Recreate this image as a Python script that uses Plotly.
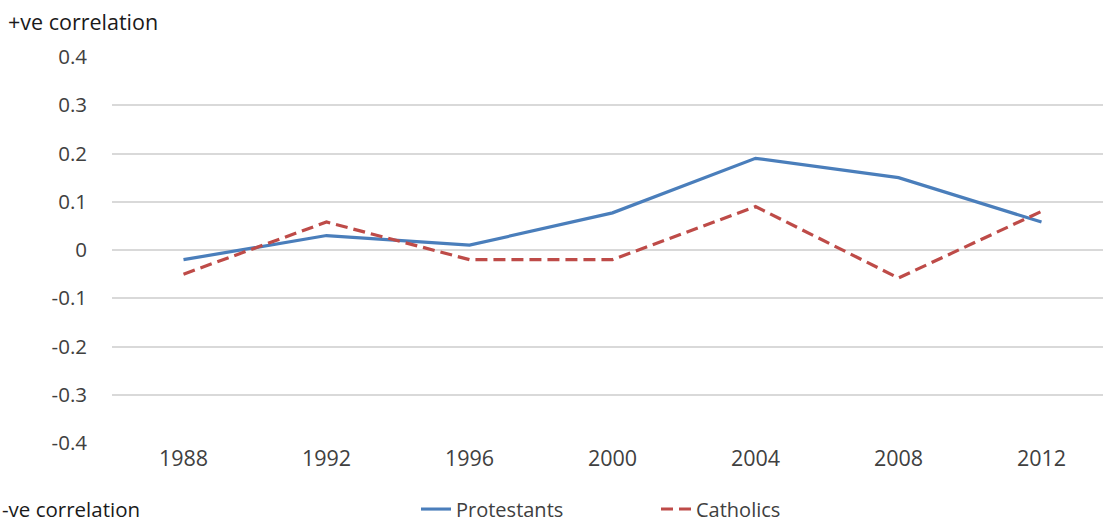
import plotly.graph_objects as go

years = ["1988", "1992", "1996", "2000", "2004", "2008", "2012"]
protestants = [-0.02, 0.03, 0.01, 0.077, 0.19, 0.15, 0.058]
catholics = [-0.05, 0.058, -0.02, -0.02, 0.09, -0.058, 0.08]
y_ticks = [0.4, 0.3, 0.2, 0.1, 0, -0.1, -0.2, -0.3, -0.4]
y_tick_labels = ["0.4", "0.3", "0.2", "0.1", "0", "-0.1", "-0.2", "-0.3", "-0.4"]

W, H = 1103, 526
L, T, B = 112, 57, 83
pw = W - L
ph = H - T - B

def px_x(p):
    return (p - L) / pw

def px_y(p):
    return (H - B - p) / ph

fig = go.Figure()
fig.add_trace(go.Scatter(x=years, y=protestants, mode="lines", name="Protestants",
                         line=dict(color="#4A7EBB", width=3.2), legend="legend"))
fig.add_trace(go.Scatter(x=years, y=catholics, mode="lines", name="Catholics",
                         line=dict(color="#BE4B48", width=3.2, dash="12px,6px"),
                         legend="legend2"))

font_family = "'Open Sans', Lato, sans-serif"
FS = 20.5
LEG_PX = 509
LEG_Y = 1 - LEG_PX / H

legend_common = dict(orientation="h", xref="container", yref="container",
                     xanchor="left", yanchor="middle",
                     font=dict(size=20, color="#404040"), bgcolor="rgba(0,0,0,0)")

fig.update_layout(
    width=W, height=H,
    margin=dict(l=L, r=0, t=T, b=B, autoexpand=False),
    paper_bgcolor="white", plot_bgcolor="white",
    font=dict(family=font_family, size=FS, color="#404040"),
    showlegend=True,
    legend=dict(x=416 / W, y=LEG_Y, **legend_common),
    legend2=dict(x=656 / W, y=LEG_Y, **legend_common),
    xaxis=dict(type="category", range=[-0.5, -0.5 + pw / 143.0], showgrid=False,
               showline=False, ticks="", tickfont=dict(size=21.5, color="#404040"),
               zeroline=False, fixedrange=True, automargin=False),
    yaxis=dict(range=[-0.4, 0.4], tickvals=y_ticks, ticktext=y_tick_labels,
               showgrid=True, gridcolor="#D9D9D9", gridwidth=2, zeroline=False,
               showline=False, ticks="", ticklabelstandoff=24, automargin=False,
               tickfont=dict(size=FS, color="#404040"), fixedrange=True),
    annotations=[
        dict(text="+ve correlation", xref="paper", yref="paper", x=px_x(6), y=px_y(22),
             xanchor="left", yanchor="middle", showarrow=False,
             font=dict(size=21.5, color="#1a1a1a")),
        dict(text="-ve correlation", xref="paper", yref="paper", x=px_x(0), y=px_y(LEG_PX),
             xanchor="left", yanchor="middle", showarrow=False,
             font=dict(size=20.5, color="#1a1a1a")),
    ],
)

fig.write_html("out.html", config={"displayModeBar": False},
               post_script="document.body.style.margin='0';document.body.style.overflow='hidden';")
